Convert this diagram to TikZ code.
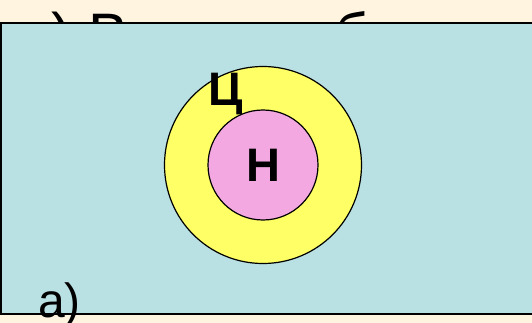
\documentclass[tikz,border=0pt]{standalone}
\usepackage{fontspec}
\setmainfont{Liberation Sans}
\usepackage{xcolor}
\definecolor{slidebg}{HTML}{FEF4DF}
\definecolor{boardblue}{HTML}{B9E0E3}
\definecolor{setyellow}{HTML}{FFFF66}
\definecolor{setpink}{HTML}{F4A8E2}

\begin{document}
\begin{tikzpicture}[
  x=1pt, y=-1pt,
  setcircle/.style={draw, circle, line width=1.2pt, inner sep=0pt},
  bigtext/.style={font=\fontsize{48}{54}\selectfont, inner sep=0pt},
  titletext/.style={font=\fontsize{60}{66}\selectfont, inner sep=0pt},
  setlabel/.style={font=\fontsize{47}{54}\selectfont\bfseries, inner sep=0pt},
]
  \useasboundingbox (0,0) rectangle (532,323);
  \fill[slidebg] (0,0) rectangle (532,323);
  % title line, mostly hidden by the board
  \node[titletext, anchor=base west] (title) at (18,56) {а) Всякое обозначение};
  \draw[fill=boardblue, line width=1.6pt] (1,23) rectangle (545,314);

  \node[setcircle, fill=setyellow, minimum size=197pt] (Z) at (263,165) {};
  \node[setcircle, fill=setpink, minimum size=110pt] (N) at (263,165) {};

  \node[setlabel, anchor=base west] (Zl) at (208,106) {Ц};
  \node[setlabel] (Nl) at (N.center) {Н};

  \node[bigtext, anchor=base west] (case) at (38,317) {а)};
\end{tikzpicture}
\end{document}
